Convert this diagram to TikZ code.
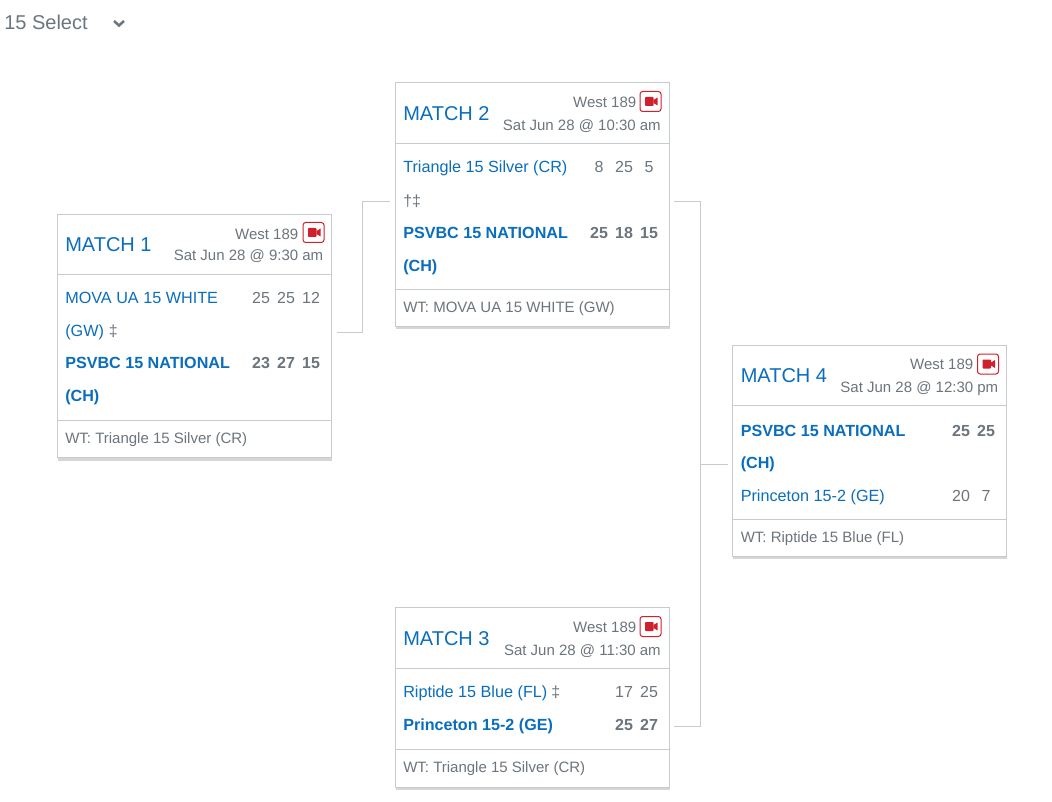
\documentclass[tikz,border=0pt]{standalone}
\usepackage{fontspec}
\setmainfont{Liberation Sans}
\usetikzlibrary{shadows}
\definecolor{linkblue}{HTML}{0A6EBD}
\definecolor{textgray}{HTML}{6C757D}
\definecolor{rulegray}{HTML}{C6CBCE}
\definecolor{camred}{HTML}{D0202E}
\tikzset{
	matchbox/.style={draw=rulegray, fill=white, line width=0.75pt, anchor=north west, minimum width=205.5pt, inner sep=0pt, drop shadow={shadow xshift=0pt, shadow yshift=-2pt, fill=black, opacity=0.16}},
	wire/.style={draw=rulegray, line width=0.75pt},
	heading/.style={anchor=base west, inner sep=0pt, text=linkblue, font=\fontsize{15}{18}\selectfont},
	room/.style={anchor=base east, inner sep=0pt, text=textgray, font=\fontsize{11.25}{13}\selectfont},
	team/.style={anchor=base west, inner sep=0pt, text=linkblue, font=\fontsize{12.15}{14}\selectfont},
	winner/.style={team, font=\fontsize{12.1}{14}\selectfont\bfseries},
	daggers/.style={anchor=base west, inner sep=0pt, text=textgray, font=\fontsize{12}{14}\selectfont},
	score/.style={anchor=base, inner sep=0pt, text=textgray, font=\fontsize{12}{14}\selectfont},
	topscore/.style={score, font=\fontsize{12}{14}\selectfont\bfseries},
	workteam/.style={anchor=base west, inner sep=0pt, text=textgray, font=\fontsize{11.25}{13}\selectfont},
	camera/.pic={
		\draw[camred, line width=0.75pt, rounded corners=2pt, fill=white] (-10.5,-10) rectangle (10.5,10);
		\fill[camred, rounded corners=0.6pt] (-5.5,-4.5) rectangle (3,4.5);
		\fill[camred] (3,-1.5) -- (7,-4) -- (7,4) -- (3,1.5) -- cycle;
	}
}
\begin{document}
\begin{tikzpicture}[x=0.75pt, y=-0.75pt]
	\useasboundingbox (0,0) rectangle (1052,802);
	% top selector
	\node[anchor=base west, inner sep=0pt, text=textgray, font=\fontsize{15}{18}\selectfont] (select) at (4,30) {15 Select};
	\draw[textgray, line width=1.9pt] (114,21) -- (119,25.5) -- (124,21);

	% cards
	\node[matchbox, minimum height=182.5pt] (match1) at (57,214) {};
	\node[matchbox, minimum height=183pt] (match2) at (395,82) {};
	\node[matchbox, minimum height=135pt] (match3) at (395,607) {};
	\node[matchbox, minimum height=158pt] (match4) at (732,345) {};

	% connectors
	\coordinate (bend1) at (362,332);
	\coordinate (bend2) at (362,201.6);
	\coordinate (bend3) at (700,201.6);
	\coordinate (bend4) at (700,726);
	\coordinate (bend5) at (700,464);
	\draw[wire, shorten <=3.8pt, shorten >=3.6pt] (match1.east |- bend1) -- (bend1) -- (bend2) -- (match2.west |- bend2);
	\draw[wire, shorten <=2.8pt, shorten >=2.8pt] (match2.east |- bend3) -- (bend3) -- (bend4) -- (match3.east |- bend4);
	\draw[wire, shorten <=3pt] (match4.west |- bend5) -- (bend5);

	% match 1
	\draw[wire] (match1.west |- 0,274) -- (match1.east |- 0,274);
	\draw[wire] (match1.west |- 0,420) -- (match1.east |- 0,420);
	\node[heading] (title1) at (65,252) {MATCH 1};
	\node[room] (room1) at (298.5,239) {West 189};
	\pic at (313.5,232.5) {camera};
	\node[room] (time1) at (323.5,261) {Sat Jun 28 @ 9:30 am};
	\node[team] (team1a) at (65,303) {MOVA UA 15 WHITE};
	\node[team] (team1b) at (65,336) {(GW)};
	\node[daggers] (mark1) at (108.5,336) {‡};
	\node[winner] (team1c) at (65,368) {PSVBC 15 NATIONAL};
	\node[winner] (team1d) at (65,401) {(CH)};
	\node[score] (s1a) at (261,303) {25};
	\node[score] (s1b) at (286,303) {25};
	\node[score] (s1c) at (311,303) {12};
	\node[topscore] (s1d) at (261,368) {23};
	\node[topscore] (s1e) at (286,368) {27};
	\node[topscore] (s1f) at (311,368) {15};
	\node[workteam] (work1) at (65,443.5) {WT: Triangle 15 Silver (CR)};

	% match 2
	\draw[wire] (match2.west |- 0,143.4) -- (match2.east |- 0,143.4);
	\draw[wire] (match2.west |- 0,289) -- (match2.east |- 0,289);
	\node[heading] (title2) at (403,120.5) {MATCH 2};
	\node[room] (room2) at (636.5,107.5) {West 189};
	\pic at (650.5,101.5) {camera};
	\node[room] (time2) at (661,130.7) {Sat Jun 28 @ 10:30 am};
	\node[team] (team2a) at (403,173) {Triangle 15 Silver (CR)};
	\node[daggers] (mark2) at (403,206.5) {†‡};
	\node[winner] (team2b) at (403,238.5) {PSVBC 15 NATIONAL};
	\node[winner] (team2c) at (403,271.5) {(CH)};
	\node[score] (s2a) at (599,173) {8};
	\node[score] (s2b) at (624,173) {25};
	\node[score] (s2c) at (649,173) {5};
	\node[topscore] (s2d) at (599,238.5) {25};
	\node[topscore] (s2e) at (624,238.5) {18};
	\node[topscore] (s2f) at (649,238.5) {15};
	\node[workteam] (work2) at (403,312.5) {WT: MOVA UA 15 WHITE (GW)};

	% match 3
	\draw[wire] (match3.west |- 0,668) -- (match3.east |- 0,668);
	\draw[wire] (match3.west |- 0,749) -- (match3.east |- 0,749);
	\node[heading] (title3) at (403,645) {MATCH 3};
	\node[room] (room3) at (636.5,632.5) {West 189};
	\pic at (650.5,626.5) {camera};
	\node[room] (time3) at (661,655) {Sat Jun 28 @ 11:30 am};
	\node[team] (team3a) at (403,697.5) {Riptide 15 Blue (FL)};
	\node[daggers] (mark3) at (551,697.5) {‡};
	\node[winner] (team3b) at (403,730.5) {Princeton 15-2 (GE)};
	\node[score] (s3a) at (624,697.5) {17};
	\node[score] (s3b) at (649,697.5) {25};
	\node[topscore] (s3c) at (624,730.5) {25};
	\node[topscore] (s3d) at (649,730.5) {27};
	\node[workteam] (work3) at (403,772.5) {WT: Triangle 15 Silver (CR)};

	% match 4
	\draw[wire] (match4.west |- 0,405) -- (match4.east |- 0,405);
	\draw[wire] (match4.west |- 0,519) -- (match4.east |- 0,519);
	\node[heading] (title4) at (740.5,382) {MATCH 4};
	\node[room] (room4) at (973.5,369.5) {West 189};
	\pic at (988,364) {camera};
	\node[room] (time4) at (998.5,392) {Sat Jun 28 @ 12:30 pm};
	\node[winner] (team4a) at (740.5,436) {PSVBC 15 NATIONAL};
	\node[winner] (team4b) at (740.5,468) {(CH)};
	\node[team] (team4c) at (740.5,501) {Princeton 15-2 (GE)};
	\node[topscore] (s4a) at (961,436) {25};
	\node[topscore] (s4b) at (986,436) {25};
	\node[score] (s4c) at (961,501) {20};
	\node[score] (s4d) at (986,501) {7};
	\node[workteam] (work4) at (740.5,542.5) {WT: Riptide 15 Blue (FL)};
\end{tikzpicture}
\end{document}
